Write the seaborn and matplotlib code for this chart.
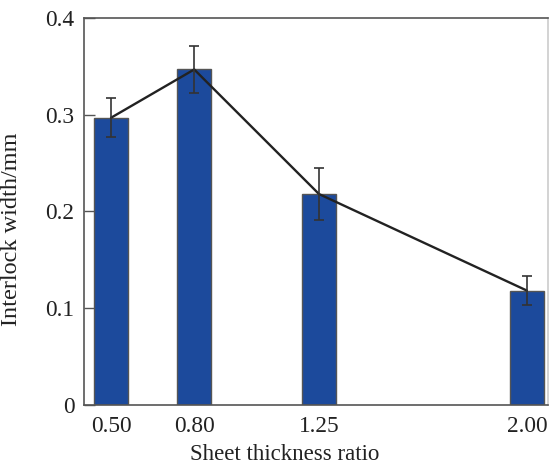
import matplotlib
matplotlib.use("Agg")
import matplotlib.pyplot as plt
import seaborn as sns
import pandas as pd

# Interlock width measured for each sheet thickness ratio
thickness_ratio = [0.50, 0.80, 1.25, 2.00]
interlock_width = [0.297, 0.347, 0.218, 0.118]
width_error = [0.020, 0.024, 0.027, 0.015]
tick_labels = ["0.50", "0.80", "1.25", "2.00"]

df = pd.DataFrame({"ratio": thickness_ratio, "width": interlock_width, "err": width_error})

sns.set_theme(style="white")
plt.rcParams["font.family"] = ["Liberation Serif", "DejaVu Serif"]

fig = plt.figure(figsize=(5.5, 4.69), dpi=100)
ax = fig.add_axes([0.1533, 0.1375, 0.8425, 0.8235])

bar_color = "#1c4a9c"
edge_color = "#555555"

sns.barplot(data=df, x="ratio", y="width", native_scale=True, width=0.41,
            color=bar_color, saturation=1, edgecolor=edge_color, linewidth=1.0,
            errorbar=None, ax=ax, zorder=2)

ax.errorbar(df["ratio"], df["width"], yerr=df["err"], fmt="none",
            ecolor="#333333", elinewidth=1.2, capsize=3.5, capthick=1.2, zorder=4)

sns.lineplot(data=df, x="ratio", y="width", color="#222222", linewidth=1.7,
             ax=ax, zorder=3)

ax.set_xlim(0.4036, 2.075)
ax.set_ylim(0, 0.4)
ax.set_xticks(thickness_ratio)
ax.set_xticklabels(tick_labels)
ax.set_yticks([0, 0.1, 0.2, 0.3, 0.4])
ax.set_yticklabels(["0", "0.1", "0.2", "0.3", "0.4"])

ax.tick_params(axis="y", direction="in", length=8, width=1.0, color="#555555",
               labelsize=16.8, pad=7, left=True)
ax.tick_params(axis="x", length=0, labelsize=16.8, pad=8)

for side, sp in ax.spines.items():
    sp.set_visible(True)
    sp.set_color("#555555")
    sp.set_linewidth(1.2)
ax.spines["right"].set_color("#cccccc")

ax.set_xlabel("Sheet thickness ratio", fontsize=16.5, color="#222222")
ax.set_ylabel("Interlock width/mm", fontsize=17.5, color="#222222")
ax.xaxis.set_label_coords(0.433, -0.103)
ax.yaxis.set_label_coords(-0.135, 0.455)
for lbl in ax.get_xticklabels() + ax.get_yticklabels():
    lbl.set_color("#222222")

fig.savefig("out.png", dpi=100)
